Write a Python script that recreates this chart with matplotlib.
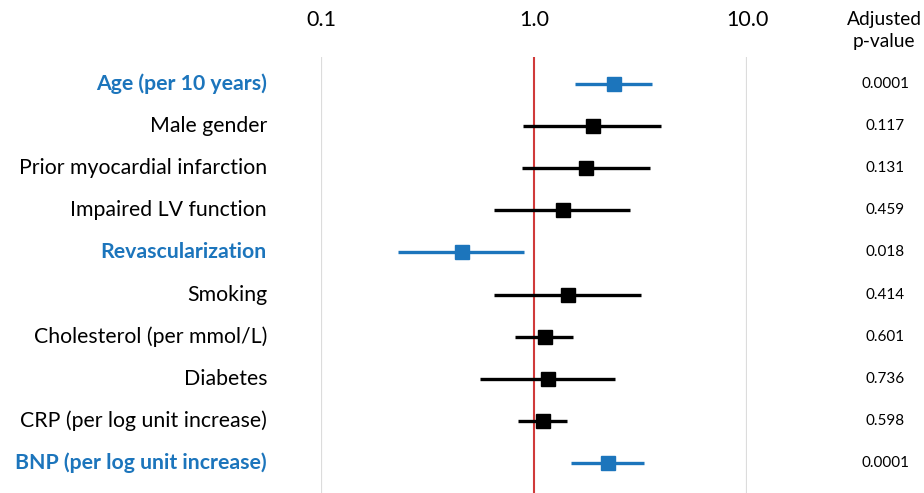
import numpy as np
import matplotlib
matplotlib.use('Agg')
import matplotlib.pyplot as plt
import matplotlib.transforms as mtrans

plt.rcParams['font.family'] = ['Lato', 'DejaVu Sans']

labels = ['Age (per 10 years)', 'Male gender', 'Prior myocardial infarction',
          'Impaired LV function', 'Revascularization', 'Smoking',
          'Cholesterol (per mmol/L)', 'Diabetes', 'CRP (per log unit increase)',
          'BNP (per log unit increase)']
hr = [2.37, 1.89, 1.75, 1.37, 0.46, 1.44, 1.13, 1.16, 1.10, 2.22]
ci_lo = [1.56, 0.89, 0.88, 0.65, 0.23, 0.65, 0.81, 0.56, 0.84, 1.49]
ci_hi = [3.58, 3.95, 3.50, 2.82, 0.90, 3.18, 1.52, 2.40, 1.43, 3.28]
p_values = ['0.0001', '0.117', '0.131', '0.459', '0.018', '0.414',
            '0.601', '0.736', '0.598', '0.0001']
significant = [True, False, False, False, True, False, False, False, False, True]
x_ticks = [0.1, 1.0, 10.0]
x_ticklabels = ['0.1', '1.0', '10.0']

blue = '#1c75bc'
W, H = 924, 493
fig = plt.figure(figsize=(W / 100, H / 100), dpi=100)
# axes spans the 0.1 .. 10 gridlines
x0, x1 = 321, 747
y_top = 57
ax = fig.add_axes([x0 / W, 0, (x1 - x0) / W, (H - y_top) / H])
ax.set_xscale('log')
ax.set_xlim(0.1, 10)
row_px = 42.1
first_px = 84
ax.set_ylim((H - first_px) / row_px, (y_top - first_px) / row_px)
for s in ax.spines.values():
    s.set_visible(False)
ax.set_xticks([])
ax.set_yticks([])
ax.xaxis.set_minor_locator(matplotlib.ticker.NullLocator())

ax.axvline(0.1, color='#dcdcdc', lw=1.6, zorder=1)
ax.axvline(10, color='#dcdcdc', lw=1.6, zorder=1)
ax.axvline(1.0, color='#d03a3a', lw=1.5, zorder=1)

for i in range(len(labels)):
    c = blue if significant[i] else 'black'
    ax.plot([ci_lo[i], ci_hi[i]], [i, i], color=c, lw=2.4, solid_capstyle='butt', zorder=2)
    ax.plot(hr[i], i, marker='s', ms=10.5, color=c, zorder=3)

# row labels on the left and p-values on the right
trans = mtrans.blended_transform_factory(fig.transFigure, ax.transData)
for i in range(len(labels)):
    c = blue if significant[i] else 'black'
    w = 'bold' if significant[i] else 'normal'
    ax.text(267 / W, i, labels[i], transform=trans, ha='right', va='center',
            fontsize=15.3, color=c, fontweight=w)
    ax.text(885 / W, i, p_values[i], transform=trans, ha='center', va='center',
            fontsize=11, color='black')

# top axis labels
tx = mtrans.blended_transform_factory(ax.transData, fig.transFigure)
for v, s in zip(x_ticks, x_ticklabels):
    ax.text(v, 1 - 20 / H, s, transform=tx, ha='center', va='center', fontsize=15.5)
fig.text(884 / W, 1 - 20 / H, 'Adjusted', ha='center', va='center', fontsize=13.8)
fig.text(884 / W, 1 - 41 / H, 'p-value', ha='center', va='center', fontsize=13.8)

fig.savefig('out.png', dpi=100)
